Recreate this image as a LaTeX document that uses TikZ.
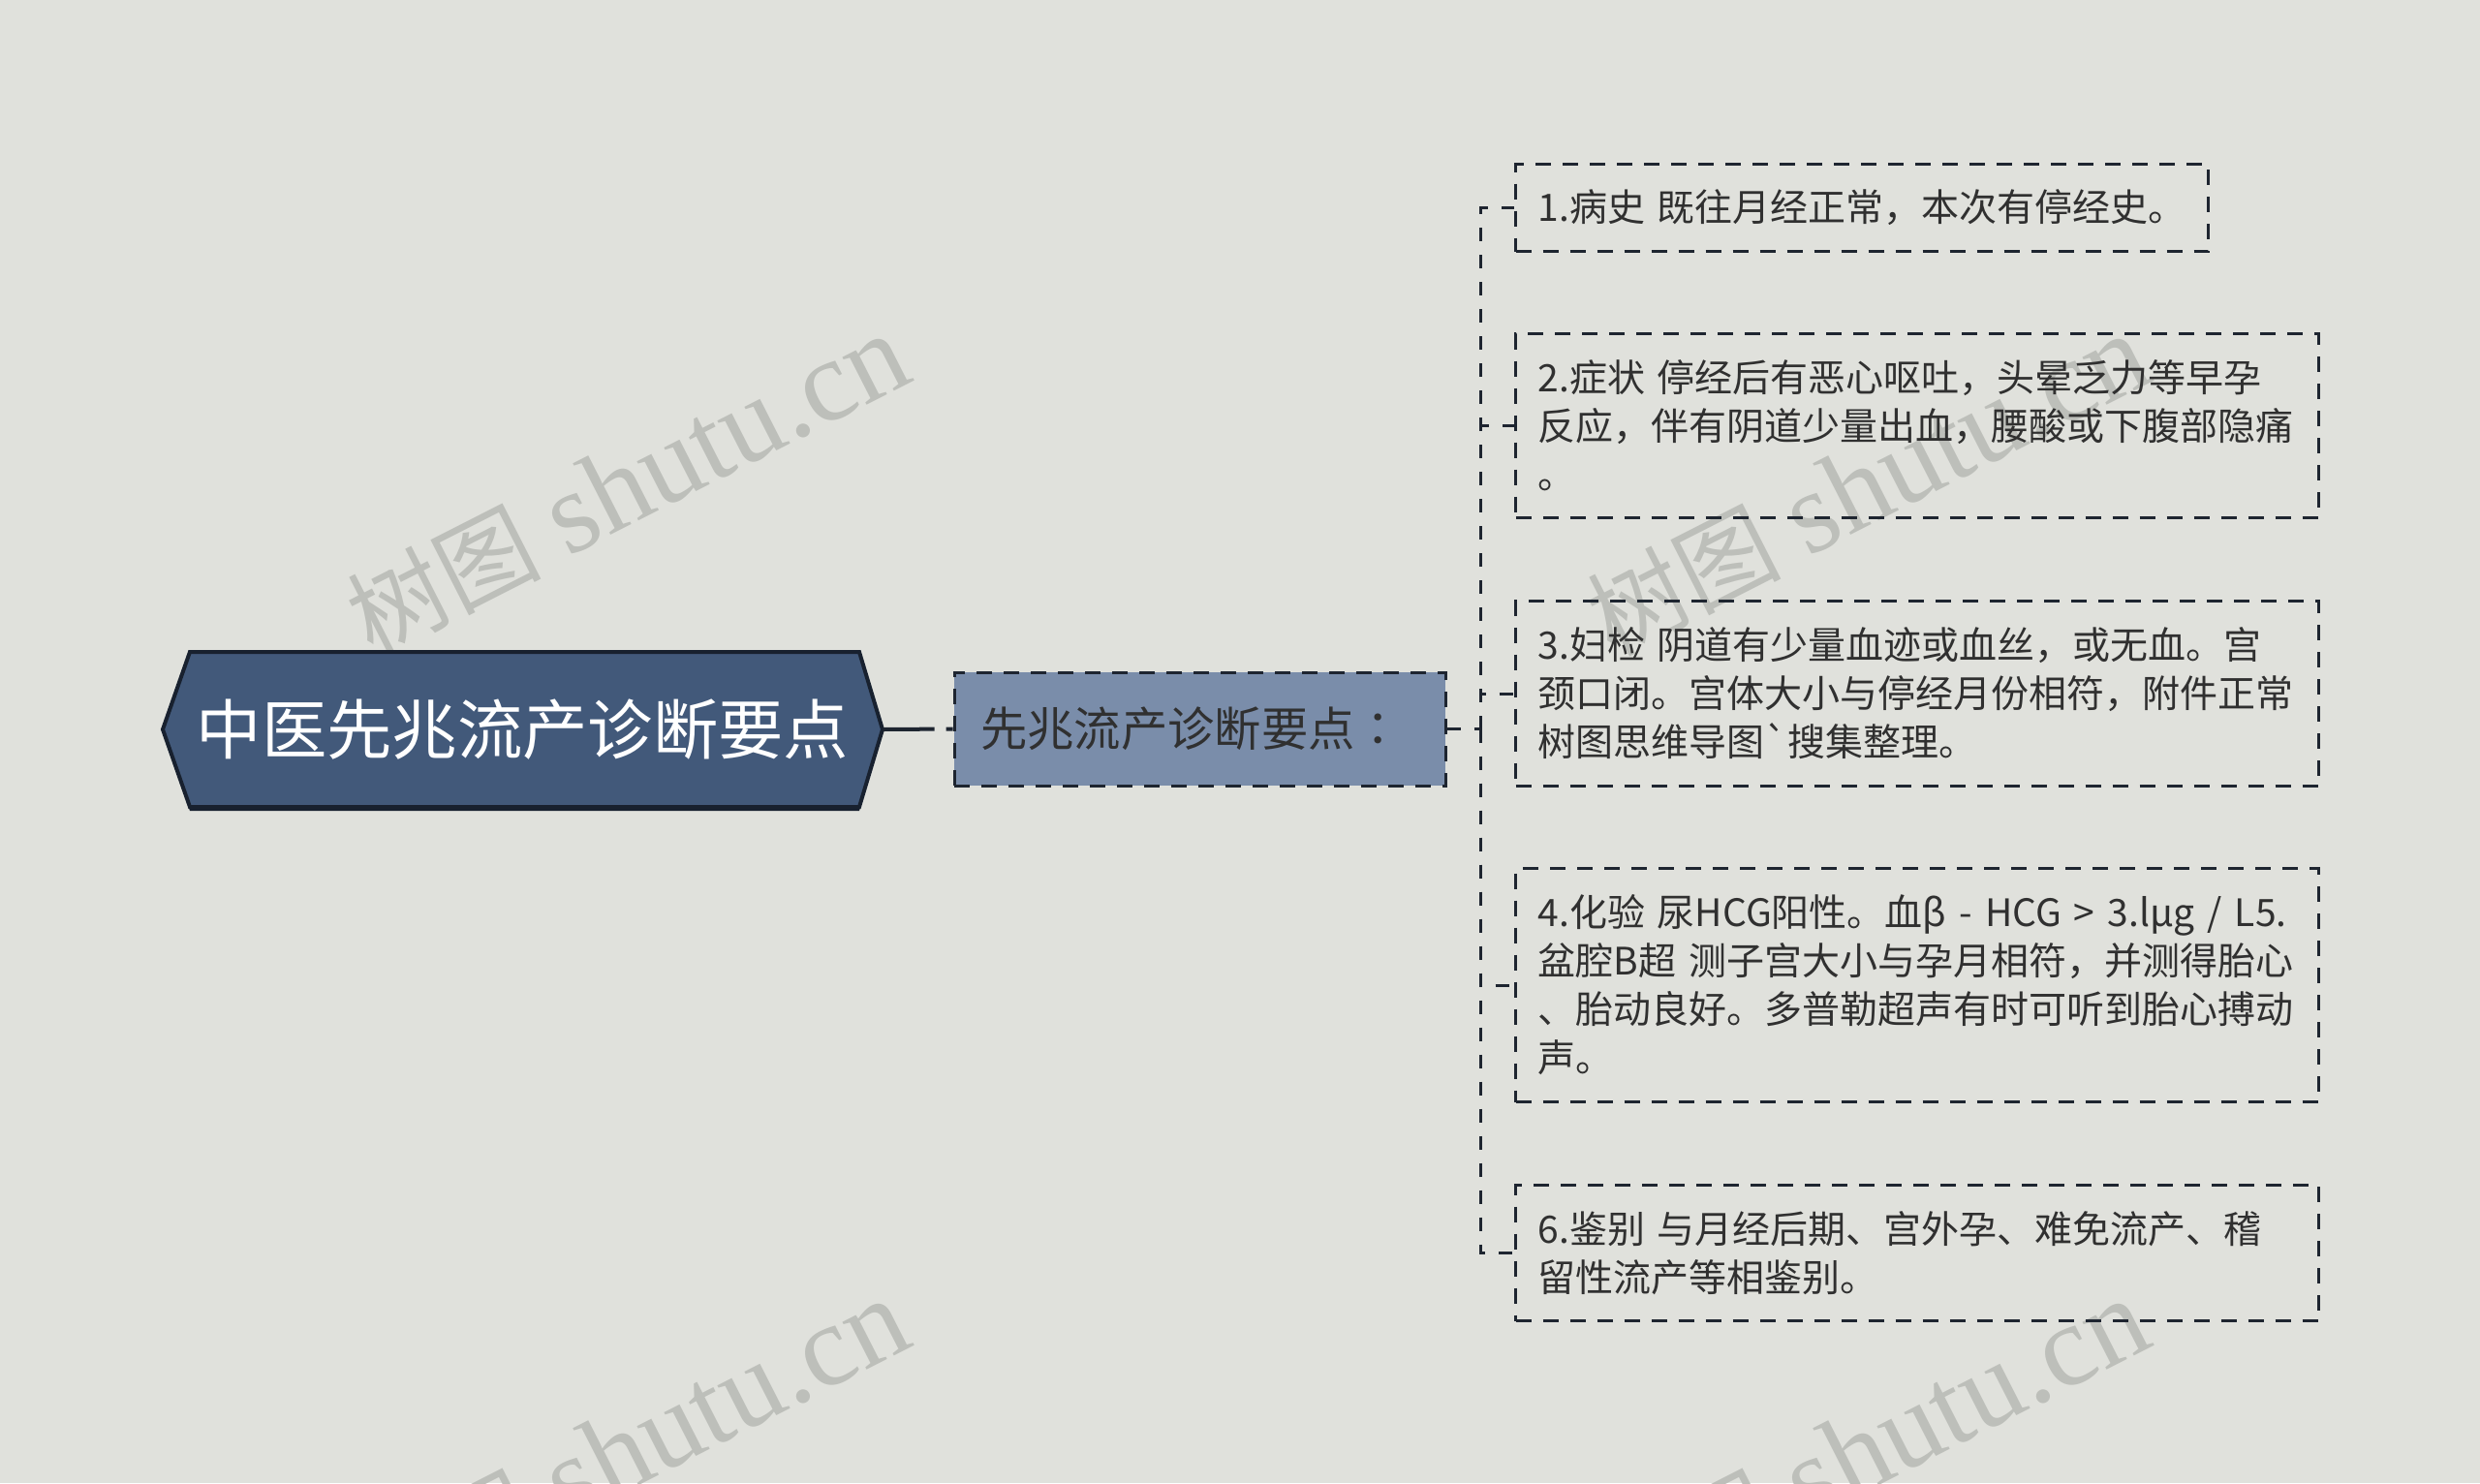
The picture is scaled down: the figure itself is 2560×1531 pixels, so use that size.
\documentclass[tikz,border=0pt]{standalone}
\usepackage{fontspec}
\setmainfont{Noto Sans CJK SC}[Ligatures=TeXOff]
\newfontfamily\wmlatin{Liberation Serif}
\newfontfamily\wmcjk{Noto Sans CJK SC}
\newfontfamily\tcfont{Noto Sans CJK TC}
\definecolor{bg}{HTML}{E0E1DC}
\definecolor{wmgray}{HTML}{BDBFBA}
\definecolor{rootfill}{HTML}{42597A}
\definecolor{rootedge}{HTML}{18212F}
\definecolor{childfill}{HTML}{7A8DAA}
\definecolor{txt}{HTML}{303030}
\definecolor{linec}{HTML}{1E2530}
\tikzset{
  wm/.style={text=wmgray, font=\fontsize{36}{40}\selectfont, inner sep=0pt},
  roottext/.style={text=white, font=\fontsize{20.2}{24}\selectfont, minimum width=222.9pt, minimum height=48pt, inner sep=0pt},
  childbox/.style={draw=linec, line width=0.9pt, dash pattern=on 4.8pt off 3.6pt, fill=childfill, text=txt,
    font=\fontsize{14.5}{17}\selectfont, minimum width=152.1pt, minimum height=35.1pt,
    inner xsep=8.1pt, inner ysep=0pt, text width=135.9pt, align=left},
  itembox/.style={draw=linec, line width=0.9pt, dash pattern=on 4.8pt off 3.6pt, text=txt,
    font=\fontsize{11.7}{15}\selectfont, inner xsep=6.9pt, inner ysep=0pt, align=left, anchor=north west},
  wide/.style={minimum width=248.7pt, text width=234.9pt},
  conn/.style={draw=linec, line width=0.9pt, dash pattern=on 4.2pt off 4.2pt},
  rootline/.style={draw=linec, line width=1.2pt, dash pattern=on 15.9pt off 3.6pt on 2.7pt off 30pt}
}
\newcommand{\wmtext}{{\wmcjk\fontsize{30}{34}\selectfont 树图} {\wmlatin shutu.cn}}
\begin{document}
\begin{tikzpicture}[x=0.3pt,y=-0.3pt]
\useasboundingbox (0,0) rectangle (2560,1531);
\fill[bg] (0,0) rectangle (2560,1531);
% watermarks
\begin{scope}
\clip (0,0) rectangle (2560,1531);
\node[wm, anchor=base, rotate=27] (wm1) at (665,535) {\wmtext};
\node[wm, anchor=base, rotate=27] (wm2) at (1945,535) {\wmtext};
\node[wm, anchor=base, rotate=27] (wm3) at (665,1531) {\wmtext};
\node[wm, anchor=base, rotate=27] (wm4) at (1945,1531) {\wmtext};
\end{scope}
% root hexagon
\fill[rootedge] (168,757) -- (196,677) -- (887,677) -- (911,757) -- (887,837) -- (196,837) -- cycle;
\filldraw[fill=rootfill, draw=rootedge, line width=1.2pt, line join=miter]
  (168,753) -- (196,673) -- (887,673) -- (911,753) -- (887,833) -- (196,833) -- cycle;
\node[roottext] (root) at (539.5,753) {中医先兆流产诊断要点};
% child
\node[childbox] (child) at (1238.5,752.5) {先兆流产诊断要点{\tcfont ：}};
% items
\node[itembox, minimum width=214.5pt, text width=200.7pt, minimum height=27pt] (b1) at (1563,168)
  {\mbox{1.病史 既往月经正常，本次有停经史。}};
\node[itembox, wide, minimum height=57pt] (b2) at (1563,343)
  {2.症状 停经后有恶心呕吐，头晕乏力等早孕\\反应，伴有阴道少量出血，腰酸或下腹部隐痛\\。};
\node[itembox, wide, minimum height=57.3pt] (b3) at (1563,619)
  {3.妇检 阴道有少量血迹或血丝，或无血。宫\\颈口闭。宫体大小与停经月份相符，附件正常\\树图思维导图`搜集整理。};
\node[itembox, wide, minimum height=72.3pt] (b4) at (1563,895)
  {4.化验 尿HCG阳性。血β - HCG > 3.lμg / L5.\\盆腔B超 测子宫大小与孕月相符，并测得胎心\\、胎动良好。多普勒超声有时可听到胎心搏动\\声。};
\node[itembox, wide, minimum height=42pt] (b6) at (1563,1222)
  {6.鉴别 与月经后期、宫外孕、难免流产、稽\\留性流产等相鉴别。};
% connectors
\draw[rootline] (root.east) -- (child.west);
\coordinate (sp) at (1528,752.5);
\draw[conn] (child.east) -- (sp);
\foreach \b in {b1,b2,b3,b4,b6} { \draw[conn] (sp) |- (\b.west); }
\end{tikzpicture}
\end{document}
